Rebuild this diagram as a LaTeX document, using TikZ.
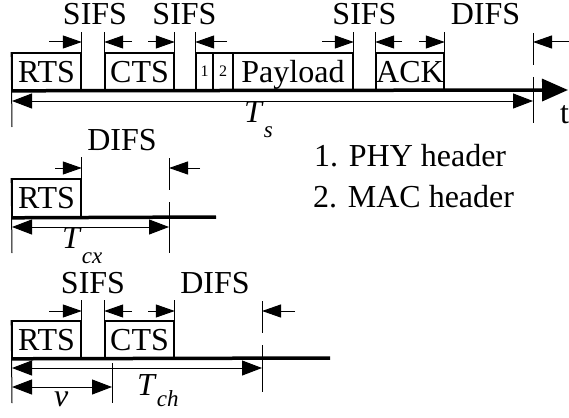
\documentclass[tikz,border=0pt]{standalone}
\usepackage{fontspec}
\setmainfont{Liberation Serif}
\usetikzlibrary{arrows.meta}
\newcommand\TSub[2]{\textit{T}\raisebox{-#2}{\fontsize{23}{23}\selectfont\textit{#1}}}
\tikzset{
  lbl/.style={font=\fontsize{32}{38}\selectfont, inner sep=0pt, anchor=base},
  boxnode/.style={draw, line width=1.6pt, inner sep=0pt, font=\fontsize{32}{38}\selectfont, text height=21.5pt, text depth=0pt},
  hdrnode/.style={boxnode, font=\fontsize{16}{19}\selectfont, text height=11pt},
  tick/.style={line width=1pt},
  axisline/.style={line width=3.5pt},
  sarr/.style={line width=1pt, -{Triangle[length=19pt,width=13pt]}},
  darr/.style={line width=1pt, {Triangle[length=20pt,width=15pt]}-{Triangle[length=20pt,width=15pt]}},
  bigarr/.style={line width=3.5pt, -{Triangle[length=26pt,width=22pt]}},
}
\begin{document}
\begin{tikzpicture}[x=1pt,y=-1pt]
\useasboundingbox (0,0) rectangle (569,417);

% ---------------- top diagram ----------------
\node[boxnode, minimum width=69pt, minimum height=37pt] (rtsA) at (46.5,71.5) {RTS};
\node[boxnode, minimum width=69pt, minimum height=37pt] (ctsA) at (139.5,71.5) {CTS};
\node[hdrnode, minimum width=17pt, minimum height=37pt] (hA) at (204.5,71.5) {1};
\node[hdrnode, minimum width=20pt, minimum height=37pt] (hB) at (223,71.5) {2};
\node[boxnode, minimum width=120pt, minimum height=37pt] (payA) at (293,71.5) {Payload};
\node[boxnode, minimum width=68pt, minimum height=37pt] (ackA) at (410,71.5) {ACK};

\coordinate (axEnd) at (568,90);
\coordinate (dA1) at (533,33);
\coordinate (dA2) at (533,65);
\coordinate (dA3) at (533,77);
\coordinate (dA4) at (533,123);
\coordinate (lA) at (12,127);

\draw[tick] (rtsA.north east) -- ++(0,-20) coordinate (tA1);
\draw[tick] (ctsA.north west) -- ++(0,-20) coordinate (tA2);
\draw[tick] (ctsA.north east) -- ++(0,-20) coordinate (tA3);
\draw[tick] (hA.north west) -- ++(0,-20) coordinate (tA4);
\draw[tick] (payA.north east) -- ++(0,-20) coordinate (tA5);
\draw[tick] (ackA.north west) -- ++(0,-20) coordinate (tA6);
\draw[tick] (ackA.north east) -- ++(0,-20) coordinate (tA7);
\draw[tick] (dA1) -- (dA2);
\draw[tick] (dA3) -- (dA4);
\draw[tick] (rtsA.north west) -- (lA);

\draw[bigarr] (rtsA.south west) -- (axEnd);

\draw[sarr] (49,42) -- (tA1 |- 0,42);
\draw[sarr] (132,42) -- (tA2 |- 0,42);
\draw[sarr] (148,42) -- (tA3 |- 0,42);
\draw[sarr] (227,42) -- (tA4 |- 0,42);
\draw[sarr] (322,42) -- (tA5 |- 0,42);
\draw[sarr] (402,42) -- (tA6 |- 0,42);
\draw[sarr] (419,42) -- (tA7 |- 0,42);
\draw[sarr] (569,42) -- (dA1 |- 0,42);
\draw[darr] (12,101) -- (dA4 |- 0,101);

\node[lbl] (sifsA1) at (95,25) {SIFS};
\node[lbl] (sifsA2) at (184.5,25) {SIFS};
\node[lbl] (sifsA3) at (364.5,25) {SIFS};
\node[lbl] (difsA) at (485.5,25) {DIFS};
\node[lbl, anchor=base west] (tsA) at (244,122) {\TSub{s}{15pt}};
\node[lbl, anchor=base west] (tlbl) at (560,123) {t};

% ---------------- legend ----------------
\node[lbl, anchor=base west] (leg1) at (314,166) {1. PHY header};
\node[lbl, anchor=base west] (leg2) at (313,207) {2. MAC header};

% ---------------- middle diagram ----------------
\node[boxnode, minimum width=69pt, minimum height=38pt] (rtsB) at (46.5,198) {RTS};
\coordinate (dB1) at (169,158);
\coordinate (dB2) at (169,190);
\coordinate (dB3) at (169,202);
\coordinate (dB4) at (169,253);
\coordinate (bEnd) at (216,217);
\coordinate (lB) at (12,253);
\draw[tick] (rtsB.north east) -- ++(0,-21) coordinate (tB1);
\draw[tick] (dB1) -- (dB2);
\draw[tick] (dB3) -- (dB4);
\draw[tick] (rtsB.north west) -- (lB);
\draw[axisline] (rtsB.south west) -- (bEnd);
\draw[sarr] (55,168) -- (tB1 |- 0,168);
\draw[sarr] (200,168) -- (dB1 |- 0,168);
\draw[darr] (12,227) -- (dB1 |- 0,227);
\node[lbl] (difsB) at (122,150) {DIFS};
\node[lbl, anchor=base west] (tcxB) at (62,248) {\TSub{cx}{15pt}};

% ---------------- bottom diagram ----------------
\node[boxnode, minimum width=69pt, minimum height=37pt] (rtsC) at (46.5,339.5) {RTS};
\node[boxnode, minimum width=69pt, minimum height=37pt] (ctsC) at (139.5,339.5) {CTS};
\coordinate (dC1) at (262,301);
\coordinate (dC2) at (262,333);
\coordinate (dC3) at (262,345);
\coordinate (dC4) at (262,392);
\coordinate (cEnd) at (330,358);
\coordinate (lC) at (12,403);
\coordinate (vC1) at (112,363);
\coordinate (vC2) at (112,403);
\draw[tick] (rtsC.north east) -- ++(0,-20) coordinate (tC1);
\draw[tick] (ctsC.north west) -- ++(0,-20) coordinate (tC2);
\draw[tick] (ctsC.north east) -- ++(0,-20) coordinate (tC3);
\draw[tick] (dC1) -- (dC2);
\draw[tick] (dC3) -- (dC4);
\draw[tick] (rtsC.north west) -- (lC);
\draw[tick] (vC1) -- (vC2);
\draw[axisline] (rtsC.south west) -- (cEnd);
\draw[sarr] (49,311) -- (tC1 |- 0,311);
\draw[sarr] (132,311) -- (tC2 |- 0,311);
\draw[sarr] (148,311) -- (tC3 |- 0,311);
\draw[sarr] (295,311) -- (dC1 |- 0,311);
\draw[darr] (12,368) -- (dC1 |- 0,368);
\draw[darr] (12,387) -- (vC1 |- 0,387);
\node[lbl] (sifsC) at (93,293) {SIFS};
\node[lbl] (difsC) at (215,293) {DIFS};
\node[lbl, anchor=base west] (tchC) at (137,395) {\TSub{ch}{11pt}};
\node[lbl, anchor=base west] (vlbl) at (54,406) {\textit{v}};
\end{tikzpicture}
\end{document}
